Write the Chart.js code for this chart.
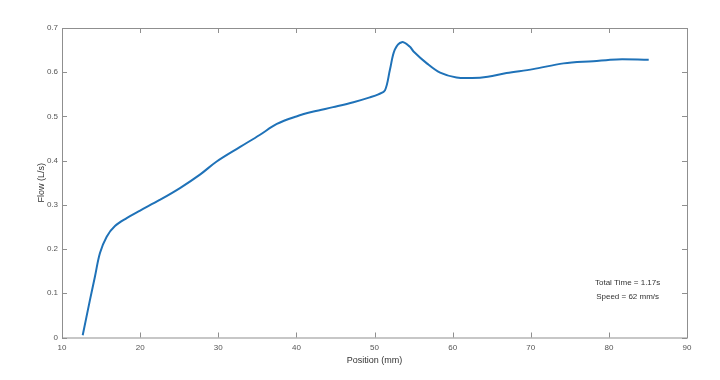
<!DOCTYPE html>
<html>
<head>
<meta charset="utf-8">
<title>Flow vs Position</title>
<script src="https://cdn.jsdelivr.net/npm/chart.js@4.4.1/dist/chart.umd.min.js"></script>
<style>
  html, body { margin: 0; padding: 0; background: #fff; }
  canvas { display: block; }
</style>
</head>
<body>
<canvas id="chart" width="720" height="380"></canvas>
<script>
// values
const positions = [12.65, 13.58, 14.22, 14.86, 15.72, 16.78, 18.28, 20.0, 22.5, 25.1,
  27.7, 29.8, 32.8, 35.3, 37.5, 40.0, 42.2, 44.7, 47.3, 49.4,
  50.5, 51.34, 51.98, 52.6, 53.5, 54.5, 55.0, 56.7, 58.4, 60.5,
  62.5, 64.5, 66.9, 70.3, 74.2, 78.0, 81.0, 85.1];
const flows = [0.005, 0.085, 0.138, 0.191, 0.228, 0.252, 0.270, 0.287, 0.311, 0.338,
  0.369, 0.398, 0.431, 0.458, 0.483, 0.500, 0.511, 0.521, 0.532, 0.543,
  0.550, 0.559, 0.606, 0.651, 0.668, 0.658, 0.647, 0.620, 0.599, 0.588,
  0.587, 0.590, 0.598, 0.607, 0.620, 0.625, 0.629, 0.628];
const xTicks = [10, 20, 30, 40, 50, 60, 70, 80, 90];
const yTicks = [0, 0.1, 0.2, 0.3, 0.4, 0.5, 0.6, 0.7];
const notes = ['Total Time = 1.17s', 'Speed = 62 mm/s'];
const notePos = [[82.4, 0.124], [82.4, 0.093]];

const FONT = '"Liberation Sans", Arial, sans-serif';
const boxColor = '#8f8f8f';

// matlab style box with inward ticks on all four sides, plus the text notes
const boxPlugin = {
  id: 'box',
  afterDraw(chart) {
    const { ctx, chartArea: { left, right, top, bottom }, scales: { x, y } } = chart;
    ctx.save();
    ctx.strokeStyle = boxColor;
    ctx.lineWidth = 1;
    ctx.strokeRect(left + 0.5, top + 0.5, right - left, bottom - top);
    ctx.beginPath();
    xTicks.forEach(v => {
      const px = Math.round(x.getPixelForValue(v)) + 0.5;
      ctx.moveTo(px, bottom); ctx.lineTo(px, bottom - 5);
      ctx.moveTo(px, top); ctx.lineTo(px, top + 5);
    });
    yTicks.forEach(v => {
      const py = Math.round(y.getPixelForValue(v)) + 0.5;
      ctx.moveTo(left, py); ctx.lineTo(left + 5, py);
      ctx.moveTo(right, py); ctx.lineTo(right - 5, py);
    });
    ctx.stroke();

    ctx.fillStyle = '#333';
    ctx.font = '8px ' + FONT;
    ctx.textAlign = 'center';
    ctx.textBaseline = 'middle';
    notes.forEach((t, i) => {
      ctx.fillText(t, x.getPixelForValue(notePos[i][0]), y.getPixelForValue(notePos[i][1]));
    });
    ctx.restore();
  }
};

const ctx = document.getElementById('chart').getContext('2d');
new Chart(ctx, {
  type: 'line',
  data: {
    datasets: [{
      data: positions.map((p, i) => ({ x: p, y: flows[i] })),
      borderColor: '#1f72b8',
      borderWidth: 2,
      pointRadius: 0,
      fill: false,
      tension: 0.35
    }]
  },
  options: {
    responsive: false,
    animation: false,
    layout: { padding: { left: 0, right: 33, top: 28, bottom: 0 } },
    plugins: { legend: { display: false }, tooltip: { enabled: false } },
    scales: {
      x: {
        type: 'linear',
        min: 10, max: 90,
        afterBuildTicks: s => { s.ticks = xTicks.map(v => ({ value: v })); },
        afterFit: s => { s.height = 42.5; },
        grid: { display: false, drawTicks: false, tickLength: 0 },
        border: { display: false },
        ticks: { color: '#555', font: { family: FONT, size: 8 }, padding: 5, maxRotation: 0 },
        title: { display: true, text: 'Position (mm)', color: '#333',
          font: { family: FONT, size: 9 }, padding: { top: 0, bottom: 14.5 } }
      },
      y: {
        min: 0, max: 0.7,
        afterBuildTicks: s => { s.ticks = yTicks.map(v => ({ value: v })); },
        afterFit: s => { s.width = 62; },
        grid: { display: false, drawTicks: false, tickLength: 0 },
        border: { display: false },
        ticks: { color: '#555', font: { family: FONT, size: 8 }, padding: 4 },
        title: { display: true, text: 'Flow (L/s)', color: '#333',
          font: { family: FONT, size: 9 }, padding: { top: 36, bottom: 0 } }
      }
    }
  },
  plugins: [boxPlugin]
});
</script>
</body>
</html>
